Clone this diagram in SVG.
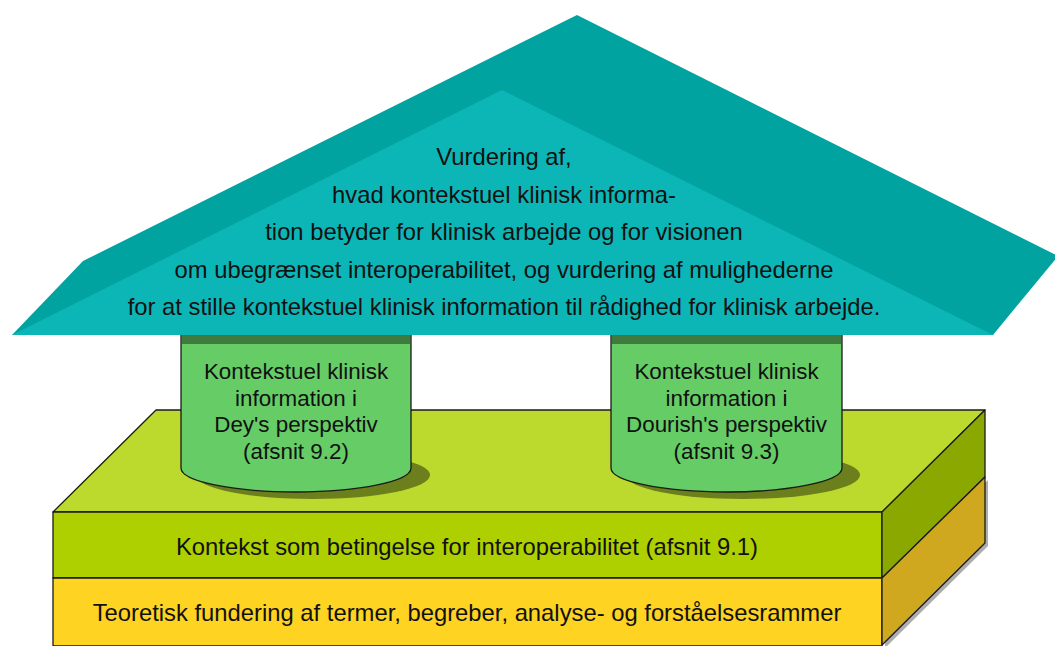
<svg xmlns="http://www.w3.org/2000/svg" width="1055" height="646" viewBox="0 0 1055 646">
  <style>
    .t { font-family: "Liberation Sans", Arial, sans-serif; fill: #111; text-anchor: middle; }
    .roof { font-size: 23.8px; }
    .cyl { font-size: 22.4px; }
    .base { font-size: 23.8px; }
    .edge { stroke: #1a1a1a; stroke-width: 1.3; stroke-linejoin: round; }
  </style>
  <rect width="1055" height="646" fill="#ffffff"/>

  <g id="foundation">
    <polygon points="885,581 988,480 988,546 885,648" fill="#777" opacity="0.6"/>
    <polygon class="edge" points="53,512 156,410 985,410 882,512" fill="#bcd92d"/>
    <rect class="edge" x="53" y="512" width="829" height="66" fill="#aecf00"/>
    <polygon class="edge" points="882,512 985,410 985,477 882,578" fill="#8ba800"/>
    <rect class="edge" x="53" y="578" width="829" height="68" fill="#fed322"/>
    <polygon class="edge" points="882,578 985,477 985,543 882,645" fill="#cfa820"/>
    <text class="t base" x="467" y="555">Kontekst som betingelse for interoperabilitet (afsnit 9.1)</text>
    <text class="t base" x="467" y="621">Teoretisk fundering af termer, begreber, analyse- og forståelsesrammer</text>
  </g>

  <g id="pillar-dey">
    <ellipse cx="313" cy="475" rx="117" ry="24" fill="#6b7f1c"/>
    <path class="edge" d="M181,330 L181,468 A115,24 0 0 0 411,468 L411,330 Z" fill="#66cc66"/>
    <rect x="182" y="330" width="228" height="14" fill="#3f7b3f"/>
    <text class="t cyl" x="296" y="379">Kontekstuel klinisk</text>
    <text class="t cyl" x="296" y="405.7">information i</text>
    <text class="t cyl" x="296" y="432.3">Dey's perspektiv</text>
    <text class="t cyl" x="296" y="459">(afsnit 9.2)</text>
  </g>

  <g id="pillar-dourish">
    <ellipse cx="743" cy="475" rx="117" ry="24" fill="#6b7f1c"/>
    <path class="edge" d="M611,330 L611,468 A115.5,24 0 0 0 842,468 L842,330 Z" fill="#66cc66"/>
    <rect x="612" y="330" width="229" height="14" fill="#3f7b3f"/>
    <text class="t cyl" x="726.5" y="379">Kontekstuel klinisk</text>
    <text class="t cyl" x="726.5" y="405.7">information i</text>
    <text class="t cyl" x="726.5" y="432.3">Dourish's perspektiv</text>
    <text class="t cyl" x="726.5" y="459">(afsnit 9.3)</text>
  </g>

  <g id="roof">
    <polygon points="577,15 1058,256 993,335 12,335 83,261" fill="#00a3a0"/>
    <polygon points="502,90 993,335 12,335" fill="#0db6b6"/>
    <text class="t roof" x="504" y="165">Vurdering af,</text>
    <text class="t roof" x="504" y="202.5">hvad kontekstuel klinisk informa-</text>
    <text class="t roof" x="504" y="240">tion betyder for klinisk arbejde og for visionen</text>
    <text class="t roof" x="504" y="277.5">om ubegrænset interoperabilitet, og vurdering af mulighederne</text>
    <text class="t roof" x="504" y="315">for at stille kontekstuel klinisk information til rådighed for klinisk arbejde.</text>
  </g>

  <g id="connectors"></g>
</svg>
